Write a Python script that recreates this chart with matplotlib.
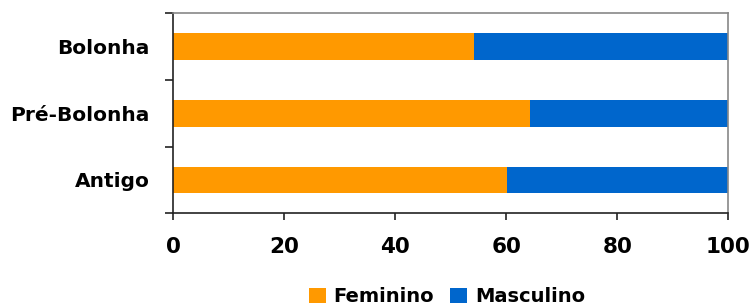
import matplotlib.pyplot as plt

categories = ['Antigo', 'Pré-Bolonha', 'Bolonha']
feminino = [60.2, 64.3, 54.2]
masculino = [100 - v for v in feminino]

plt.rcParams['font.family'] = ['DejaVu Sans']
plt.rcParams['font.weight'] = 'bold'

fig = plt.figure(figsize=(7.55, 3.06), dpi=100)
ax = fig.add_axes([0.2296, 0.303, 0.9646 - 0.2296, 0.9565 - 0.303])

pos = range(len(categories))
ax.barh(pos, feminino, height=0.4, color='#FF9900', label='Feminino')
ax.barh(pos, masculino, left=feminino, height=0.4, color='#0066CC', label='Masculino')

ax.set_xlim(0, 100)
ax.set_ylim(-0.5, 2.5)
ax.set_xticks([0, 20, 40, 60, 80, 100])
ax.tick_params(axis='x', labelsize=15.5, length=5, width=1.2, pad=12, colors='#222222',
               labelcolor='black')

ax.set_yticks([-0.5, 0.5, 1.5, 2.5])
ax.set_yticklabels([])
ax.tick_params(axis='y', which='major', length=6, width=1.2, color='#222222')
ax.set_yticks(list(pos), minor=True)
ax.set_yticklabels(categories, minor=True)
ax.tick_params(axis='y', which='minor', length=0, labelsize=14.5, pad=17)

for s in ['top', 'right']:
    ax.spines[s].set_color('#888888')
    ax.spines[s].set_linewidth(1.2)
for s in ['left', 'bottom']:
    ax.spines[s].set_color('#222222')
    ax.spines[s].set_linewidth(1.2)

fig.legend(loc='center', bbox_to_anchor=(0.592, 0.03), ncol=2, frameon=False,
           fontsize=14, handlelength=0.85, handleheight=0.85, handletextpad=0.4,
           columnspacing=0.85)

fig.savefig('out.png', dpi=100)
